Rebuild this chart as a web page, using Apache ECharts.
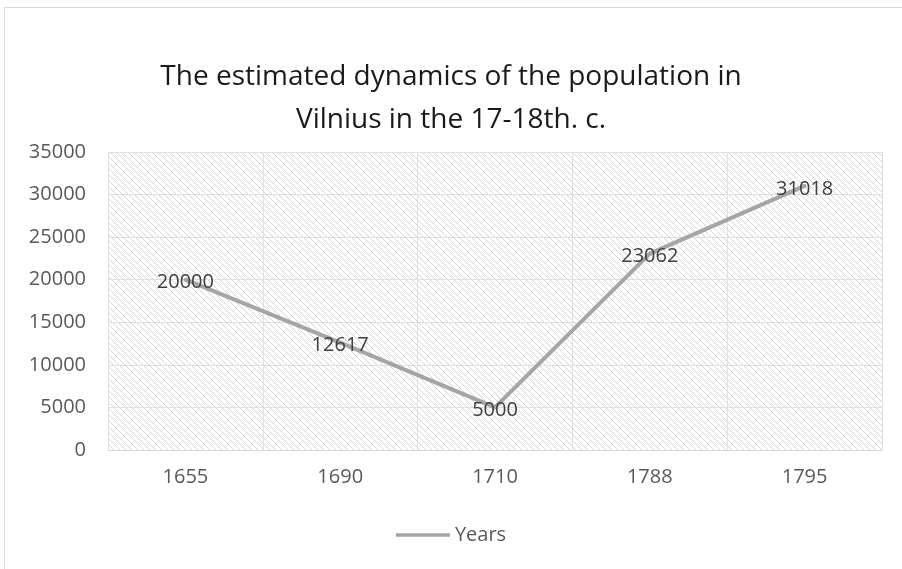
<!DOCTYPE html>
<html>
<head>
<meta charset="utf-8">
<script src="https://cdn.jsdelivr.net/npm/echarts@6/dist/echarts.min.js"></script>
<style>
  html, body { margin: 0; padding: 0; background: #fff; }
  #frame { position: absolute; left: 4px; top: 7px; width: 902px; height: 570px; border: 1px solid #d9d9d9; box-sizing: border-box; }
  #chart { position: absolute; left: 0; top: 0; width: 902px; height: 569px; }
</style>
</head>
<body>
<div id="frame"></div>
<div id="chart"></div>
<script>
const titleText = "The estimated dynamics of the population in\nVilnius in the 17-18th. c.";
const years = ["1655", "1690", "1710", "1788", "1795"];
const population = [20000, 12617, 5000, 23062, 31018];
const seriesName = "Years";

// hatch tile for the plot background
function makeHatch() {
    let c = document.createElement("canvas");
    c.width = 6;
    c.height = 6;
    let ctx = c.getContext("2d");
    ctx.strokeStyle = "#d6d6d6";
    ctx.lineWidth = 1;
    ctx.beginPath();
    ctx.moveTo(0, 0);
    ctx.lineTo(6, 6);
    ctx.moveTo(-3, 3);
    ctx.lineTo(3, 9);
    ctx.moveTo(3, -3);
    ctx.lineTo(9, 3);
    ctx.stroke();
    return c;
}

let myCharts = echarts.init(document.getElementById("chart"));
myCharts.setOption({
    animation: false,
    title: {
        text: titleText,
        left: "center",
        top: 51,
        textStyle: {
            color: "#1a1a1a",
            fontSize: 28,
            fontWeight: "normal",
            fontFamily: "Open Sans",
            lineHeight: 43,
        },
    },
    grid: {
        left: 108,
        right: 20,
        top: 152,
        bottom: 119,
        show: true,
        borderWidth: 0,
        backgroundColor: { image: makeHatch(), repeat: "repeat" },
    },
    xAxis: {
        type: "category",
        data: years,
        boundaryGap: true,
        axisLine: { lineStyle: { color: "#d9d9d9", width: 1 } },
        axisTick: { show: false },
        splitLine: { show: true, lineStyle: { color: "#e0e0e0" } },
        axisLabel: { color: "#595959", fontSize: 20, fontFamily: "Open Sans", margin: 17 },
    },
    yAxis: {
        type: "value",
        min: 0,
        max: 35000,
        interval: 5000,
        axisLine: { show: false },
        axisTick: { show: false },
        splitLine: { lineStyle: { color: "#e0e0e0" } },
        axisLabel: {
            color: "#595959",
            fontSize: 20,
            fontFamily: "Open Sans",
            margin: 22,
            formatter: function (v) { return String(v); },
        },
    },
    legend: {
        bottom: 19,
        left: "center",
        icon: "path://M0,0 L60,0 L60,4 L0,4 Z",
        itemWidth: 54,
        itemHeight: 4,
        itemGap: 2,
        itemStyle: { color: "#a5a5a5", opacity: 1 },
        textStyle: { color: "#595959", fontSize: 20, fontFamily: "Open Sans" },
        data: [seriesName],
    },
    series: [
        {
            name: seriesName,
            type: "line",
            data: population,
            symbol: "circle",
            symbolSize: 4,
            showSymbol: true,
            lineStyle: { color: "#a5a5a5", width: 4 },
            itemStyle: { color: "#a5a5a5", borderWidth: 0 },
            label: {
                show: true,
                position: "inside",
                offset: [0, 3],
                color: "#404040",
                fontSize: 20,
                fontFamily: "Open Sans",
            },
        },
    ],
});
</script>
</body>
</html>
